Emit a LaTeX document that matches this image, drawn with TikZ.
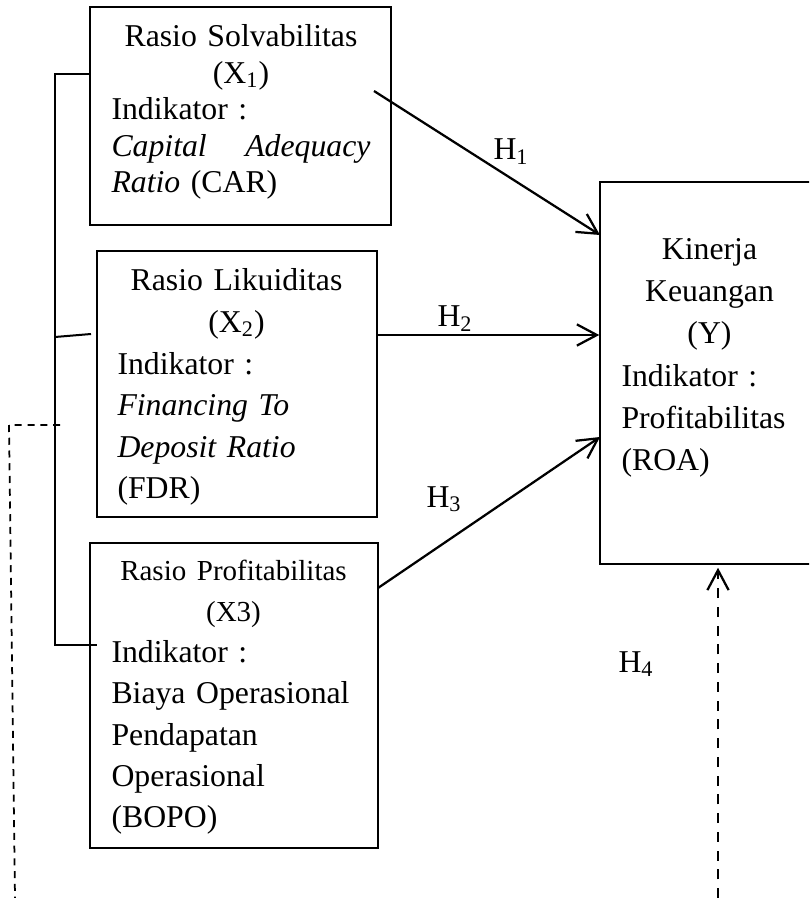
\documentclass[tikz,border=0pt]{standalone}
\usepackage{fontspec}
\setmainfont{Liberation Serif}
\usepackage{tikz}
\usetikzlibrary{arrows.meta}
\usetikzlibrary{fit}

\begin{document}
\begin{tikzpicture}[x=0.4pt, y=-0.4pt,
        box/.style={draw, line width=0.6pt, inner sep=0pt},
        txt/.style={anchor=base west, inner sep=0pt, font=\fontsize{12.7}{16.6}\selectfont},
        hyp/.style={anchor=base west, inner sep=0pt, font=\fontsize{12.7}{15}\selectfont},
        arr/.style={-{Straight Barb[length=8pt, width=8.5pt]}, line width=0.9pt},
        brk/.style={line width=0.8pt},
        dsh/.style={line width=0.7pt, dash pattern=on 2.8pt off 2.3pt}]
            \useasboundingbox (0,0) rectangle (809,898);
            \clip (0,0) rectangle (809,898);

            % boxes
            \node[box, fit={(90,7) (391,225)}] (x1) {};
            \node[box, fit={(97,251) (377,517)}] (x2) {};
            \node[box, fit={(90,543) (378,848)}] (x3) {};
            \node[box, fit={(600,182) (830,564)}] (y) {};

            \node[txt, text width=103.6pt, font=\fontsize{12.7}{14.6}\selectfont] (t1) at (111,47)
                {{\centering Rasio Solvabilitas\\(X\textsubscript{1})\par}
                Indikator :\\
                \textit{Capital}\hfill\textit{Adequacy}\\
                \textit{Ratio} (CAR)};
            \node[txt, text width=95.2pt] (t2) at (117,291)
                {{\centering Rasio Likuiditas\\(X\textsubscript{2})\par}
                Indikator :\\
                \textit{Financing To}\\
                \textit{Deposit Ratio}\\
                (FDR)};
            \node[txt, text width=97.6pt, font=\fontsize{12.7}{16.5}\selectfont] (t3) at (111,580)
                {{\fontsize{11.6}{16.5}\selectfont\centering Rasio Profitabilitas\\(X3)\par}
                Indikator :\\
                Biaya Operasional\\
                Pendapatan\\
                Operasional\\
                (BOPO)};
            \node[txt, text width=70.4pt, font=\fontsize{12.7}{16.8}\selectfont] (ty) at (621,260)
                {{\centering Kinerja\\Keuangan\\(Y)\par}
                Indikator :\\
                Profitabilitas\\
                (ROA)};

            % hypotheses
            \foreach \i/\x/\y in {1/493/160, 2/437/327, 3/426/507, 4/618/672} {
                \node[hyp] (h\i) at (\x,\y) {H\textsubscript{\i}};
            }

            \coordinate (a1) at (374,91);
            \coordinate (b1) at (600,235);
            \coordinate (a2) at (377,335);
            \coordinate (a3) at (378,588);
            \coordinate (b3) at (600,437);
            \coordinate (a4) at (718,898);
            \draw[arr] (a1) -- (b1);
            \draw[arr] (a2) -- (a2 -| y.west);
            \draw[arr] (a3) -- (b3);
            \draw[arr, dash pattern=on 4pt off 3.5pt, shorten >=1.2pt] (a4) -- (a4 |- y.south);

            % bracket
            \coordinate (c1) at (90,74);
            \coordinate (c2) at (55,337);
            \coordinate (c3) at (55,645);
            \draw[brk] (c1) -| (c3) -- ++(42,0);
            \draw[brk] (c2) -- ++(36,-3);

            \coordinate (d1) at (60,425);
            \draw[dsh] (d1) -- ++(-51,0) -- ++(6,473);
        \end{tikzpicture}
\end{document}
